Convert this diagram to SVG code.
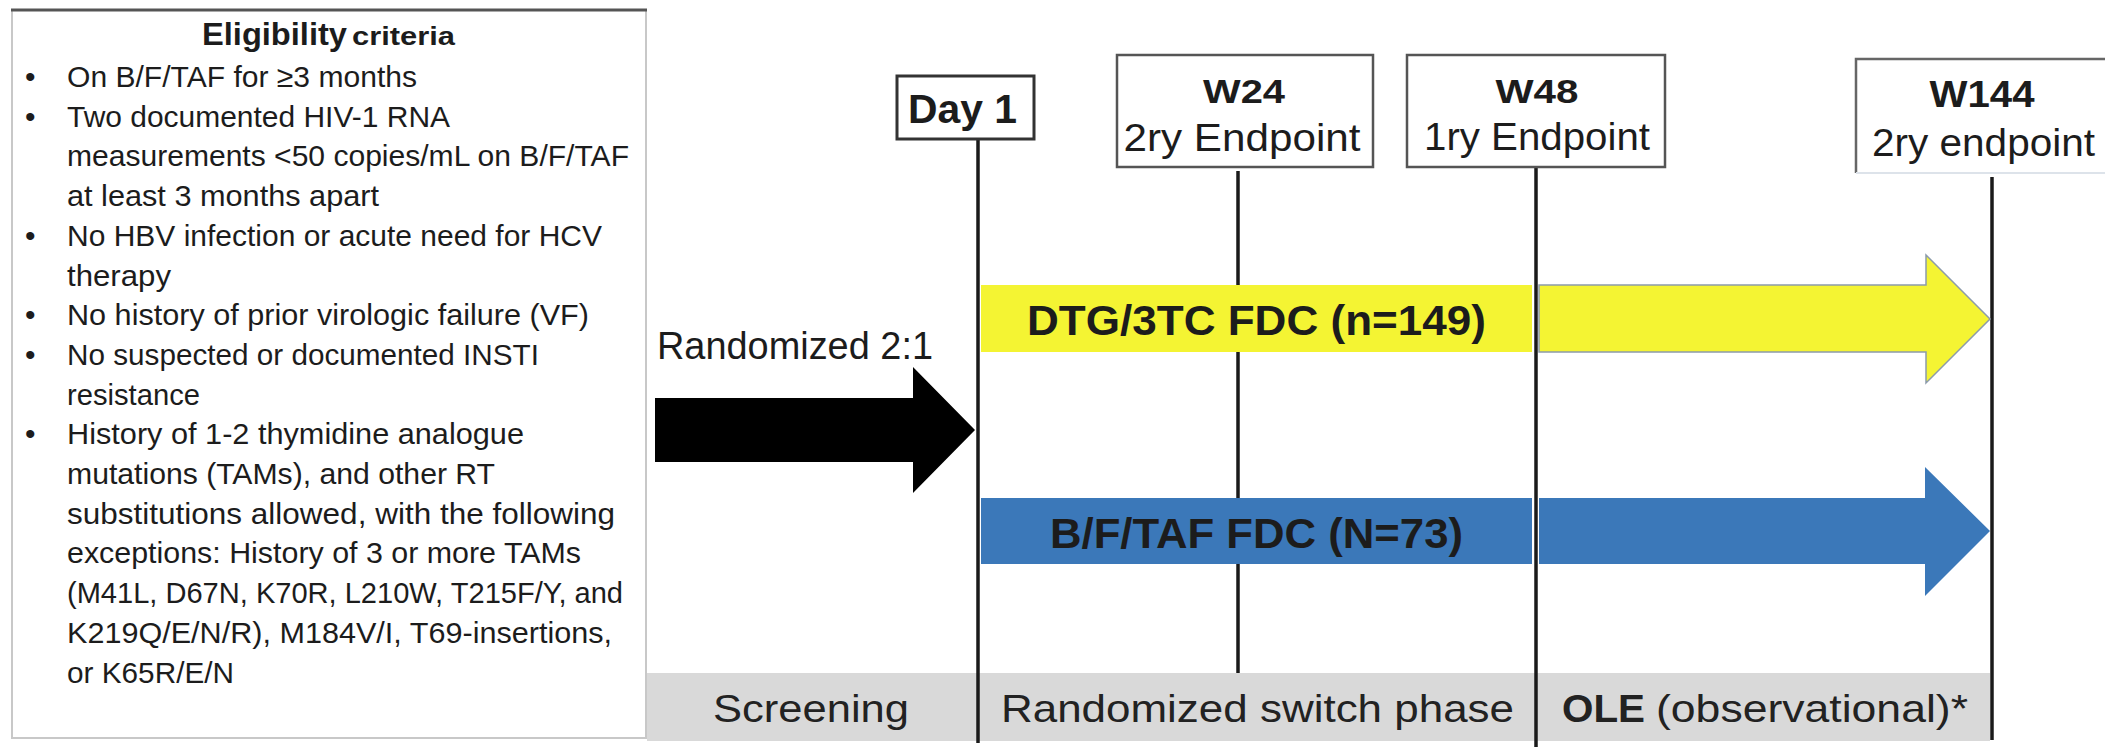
<svg xmlns="http://www.w3.org/2000/svg" width="2105" height="748" viewBox="0 0 2105 748">
<style>
  text { font-family: "Liberation Sans", Arial, sans-serif; fill: #1c1c1c; }
  .crit { font-size: 30px; }
  .b { font-weight: bold; }
  .tl { stroke: #1a1a1a; stroke-width: 3.5; fill: none; }
  .mbox { fill: #ffffff; stroke: #555555; stroke-width: 2.5; }
  .big { font-size: 39px; }
  .phase { font-size: 39px; fill: #222222; }
</style>
<rect x="0" y="0" width="2105" height="748" fill="#ffffff"/>

<g id="eligibility">
  <rect x="12" y="10" width="634" height="728" fill="#ffffff" stroke="#c8c8c8" stroke-width="2"/>
  <line x1="11" y1="10" x2="647" y2="10" stroke="#555555" stroke-width="3"/>
  <text x="202" y="45" class="b" font-size="31" textLength="145" lengthAdjust="spacingAndGlyphs">Eligibility</text>
  <text x="352" y="45" class="b" font-size="26" textLength="103" lengthAdjust="spacingAndGlyphs">criteria</text>
  <g class="crit">
    <text x="25" y="87" class="crit">•</text>
    <text x="67" y="87" class="crit" textLength="350" lengthAdjust="spacingAndGlyphs">On B/F/TAF for ≥3 months</text>
    <text x="25" y="126.7" class="crit">•</text>
    <text x="67" y="126.7" class="crit" textLength="383" lengthAdjust="spacingAndGlyphs">Two documented HIV-1 RNA</text>
    <text x="67" y="166.4" class="crit" textLength="562" lengthAdjust="spacingAndGlyphs">measurements &lt;50 copies/mL on B/F/TAF</text>
    <text x="67" y="206.1" class="crit" textLength="312" lengthAdjust="spacingAndGlyphs">at least 3 months apart</text>
    <text x="25" y="245.8" class="crit">•</text>
    <text x="67" y="245.8" class="crit" textLength="535" lengthAdjust="spacingAndGlyphs">No HBV infection or acute need for HCV</text>
    <text x="67" y="285.5" class="crit" textLength="104" lengthAdjust="spacingAndGlyphs">therapy</text>
    <text x="25" y="325.2" class="crit">•</text>
    <text x="67" y="325.2" class="crit" textLength="522" lengthAdjust="spacingAndGlyphs">No history of prior virologic failure (VF)</text>
    <text x="25" y="364.9" class="crit">•</text>
    <text x="67" y="364.9" class="crit" textLength="472" lengthAdjust="spacingAndGlyphs">No suspected or documented INSTI</text>
    <text x="67" y="404.6" class="crit" textLength="133" lengthAdjust="spacingAndGlyphs">resistance</text>
    <text x="25" y="444.3" class="crit">•</text>
    <text x="67" y="444.3" class="crit" textLength="457" lengthAdjust="spacingAndGlyphs">History of 1-2 thymidine analogue</text>
    <text x="67" y="484" class="crit" textLength="428" lengthAdjust="spacingAndGlyphs">mutations (TAMs), and other RT</text>
    <text x="67" y="523.7" class="crit" textLength="548" lengthAdjust="spacingAndGlyphs">substitutions allowed, with the following</text>
    <text x="67" y="563.4" class="crit" textLength="514" lengthAdjust="spacingAndGlyphs">exceptions: History of 3 or more TAMs</text>
    <text x="67" y="603.1" class="crit" textLength="556" lengthAdjust="spacingAndGlyphs">(M41L, D67N, K70R, L210W, T215F/Y, and</text>
    <text x="67" y="642.8" class="crit" textLength="545" lengthAdjust="spacingAndGlyphs">K219Q/E/N/R), M184V/I, T69-insertions,</text>
    <text x="67" y="682.5" class="crit" textLength="167" lengthAdjust="spacingAndGlyphs">or K65R/E/N</text>
  </g>
</g>

<g id="phase-bar">
  <rect x="647" y="673" width="1343" height="68" fill="#d9d9d9"/>
  <text x="713" y="722" class="phase" textLength="196" lengthAdjust="spacingAndGlyphs">Screening</text>
  <text x="1001" y="722" class="phase" textLength="513" lengthAdjust="spacingAndGlyphs">Randomized switch phase</text>
  <text x="1562" y="722" class="phase b" textLength="83" lengthAdjust="spacingAndGlyphs">OLE</text>
  <text x="1656" y="722" class="phase" textLength="312" lengthAdjust="spacingAndGlyphs">(observational)*</text>
</g>

<g id="connectors">
  <line class="tl" x1="978" y1="139" x2="978" y2="743"/>
  <line class="tl" x1="1238" y1="171" x2="1238" y2="673"/>
  <line class="tl" x1="1536" y1="167" x2="1536" y2="747"/>
  <line class="tl" x1="1992" y1="177" x2="1992" y2="740"/>
</g>

<g id="randomized">
  <text x="657" y="359" font-size="38" textLength="276" lengthAdjust="spacingAndGlyphs">Randomized 2:1</text>
  <polygon points="655,398 913,398 913,367 975,430 913,493 913,462 655,462" fill="#000000"/>
</g>

<g id="arm-dtg">
  <rect x="981" y="285" width="551" height="67" fill="#f4f433"/>
  <polygon points="1539,285 1926,285 1926,255 1990,319 1926,383 1926,352 1539,352" fill="#f4f433" stroke="#8c9bab" stroke-width="1.5"/>
  <text x="1027" y="335" class="b" font-size="43" fill="#111" textLength="459" lengthAdjust="spacingAndGlyphs">DTG/3TC FDC (n=149)</text>
</g>

<g id="arm-bftaf">
  <rect x="981" y="498" width="551" height="66" fill="#3b78b9"/>
  <polygon points="1539,498 1925,498 1925,467 1990,531 1925,596 1925,564 1539,564" fill="#3b78b9"/>
  <text x="1050" y="548" class="b" font-size="43" textLength="413" lengthAdjust="spacingAndGlyphs">B/F/TAF FDC (N=73)</text>
</g>

<g id="day1">
  <rect x="897" y="76" width="137" height="63" fill="#ffffff" stroke="#333333" stroke-width="3"/>
  <text x="962.5" y="123" text-anchor="middle" class="b" font-size="40" textLength="109" lengthAdjust="spacingAndGlyphs">Day 1</text>
</g>

<g id="w24">
  <rect x="1117" y="55" width="256" height="112" class="mbox"/>
  <text x="1244" y="103" text-anchor="middle" class="b" font-size="34" textLength="82" lengthAdjust="spacingAndGlyphs">W24</text>
  <text x="1242" y="151" text-anchor="middle" class="big" textLength="237" lengthAdjust="spacingAndGlyphs">2ry Endpoint</text>
</g>

<g id="w48">
  <rect x="1407" y="55" width="258" height="112" class="mbox"/>
  <text x="1537" y="103" text-anchor="middle" class="b" font-size="34" textLength="83" lengthAdjust="spacingAndGlyphs">W48</text>
  <text x="1537" y="150" text-anchor="middle" class="big" textLength="226" lengthAdjust="spacingAndGlyphs">1ry Endpoint</text>
</g>

<g id="w144">
  <rect x="1856" y="59" width="260" height="114" fill="#ffffff"/>
  <path d="M1856,173 L1856,59 L2105,59" fill="none" stroke="#666666" stroke-width="2.5"/>
  <line x1="1856" y1="173" x2="2105" y2="173" stroke="#dde3ea" stroke-width="2"/>
  <text x="1982" y="107" text-anchor="middle" class="b" font-size="37" textLength="105" lengthAdjust="spacingAndGlyphs">W144</text>
  <text x="1983.5" y="156" text-anchor="middle" class="big" textLength="223" lengthAdjust="spacingAndGlyphs">2ry endpoint</text>
</g>
</svg>
